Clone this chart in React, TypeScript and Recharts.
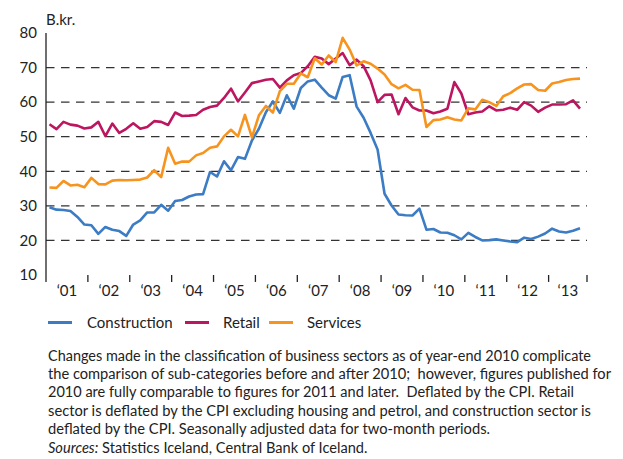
import React from 'react';
import { LineChart, Line, XAxis, YAxis, CartesianGrid, ReferenceLine } from 'recharts';

// ---- Data (bi-monthly, Jan 2001 – mid 2013), B.kr. ----
const yearLabels = ['‘01', '‘02', '‘03', '‘04', '‘05', '‘06', '‘07', '‘08', '‘09', '‘10', '‘11', '‘12', '‘13'];

const construction = [
  29.6, 28.9, 28.8, 28.5, 26.8, 24.6, 24.4, 21.9, 23.9, 23.1,
  22.7, 21.3, 24.6, 25.8, 28.1, 28.1, 30.3, 28.6, 31.4, 31.7,
  32.7, 33.3, 33.4, 39.8, 38.5, 42.9, 40.3, 44.1, 43.6, 48.9,
  52.3, 57.1, 60.2, 56.9, 62.0, 58.1, 64.1, 66.0, 66.5, 64.2,
  62.0, 61.0, 67.3, 67.8, 58.7, 55.5, 51.1, 46.3, 33.5, 30.1,
  27.5, 27.3, 27.2, 29.2, 23.1, 23.3, 22.3, 22.2, 21.5, 20.3,
  22.2, 21.0, 20.0, 20.1, 20.3, 20.0, 19.7, 19.5, 20.8, 20.4,
  21.1, 22.0, 23.4, 22.6, 22.3, 22.8, 23.5,
];

const retail = [
  53.6, 52.2, 54.3, 53.5, 53.2, 52.4, 52.7, 54.3, 50.2, 53.8,
  51.1, 52.3, 53.9, 52.3, 52.8, 54.5, 54.3, 53.4, 57.0, 56.0,
  56.1, 56.3, 57.8, 58.6, 59.0, 61.2, 63.9, 60.2, 62.8, 65.5,
  66.0, 66.5, 66.7, 64.2, 66.3, 67.8, 68.4, 70.4, 73.1, 72.6,
  71.0, 72.6, 74.2, 70.7, 72.3, 70.4, 66.3, 60.0, 62.1, 62.2,
  56.5, 61.2, 58.5, 57.6, 57.6, 56.8, 57.3, 58.1, 65.8, 62.5,
  56.5, 57.0, 57.3, 58.8, 57.6, 57.8, 58.4, 57.8, 60.0, 59.0,
  57.2, 58.4, 59.3, 59.3, 59.4, 60.5, 58.1,
];

const services = [
  35.3, 35.2, 37.2, 35.9, 36.1, 35.4, 38.1, 36.3, 36.2, 37.3,
  37.5, 37.4, 37.5, 37.6, 38.2, 40.3, 38.3, 46.8, 42.2, 42.8,
  42.8, 44.6, 45.3, 46.8, 47.2, 50.1, 52.0, 50.1, 56.3, 49.8,
  56.2, 58.9, 57.0, 63.2, 65.3, 65.3, 68.3, 67.2, 72.7, 70.9,
  73.5, 71.6, 78.6, 75.2, 70.6, 71.8, 71.1, 69.7, 68.0, 65.2,
  64.0, 65.0, 63.6, 63.5, 52.8, 54.8, 55.0, 55.6, 55.0, 54.7,
  58.2, 57.9, 60.7, 60.0, 58.9, 61.7, 62.6, 64.0, 65.1, 65.2,
  63.5, 63.3, 65.4, 65.8, 66.4, 66.7, 66.8,
];

const seriesNames = ['Construction', 'Retail', 'Services'];
const seriesKeys = ['construction', 'retail', 'services'];
const seriesColors = ['#3b7cc4', '#bd1660', '#f7941e'];

const yTicks = [10, 20, 30, 40, 50, 60, 70, 80];
const gridValues = [20, 30, 40, 50, 60, 70];
const periodsPerYear = 6;

const noteLines = [
  'Changes made in the classification of business sectors as of year-end 2010 complicate',
  'the comparison of sub-categories before and after 2010;  however, figures published for',
  '2010 are fully comparable to figures for 2011 and later.  Deflated by the CPI. Retail',
  'sector is deflated by the CPI excluding housing and petrol, and construction sector is',
  'deflated by the CPI. Seasonally adjusted data for two-month periods.',
];
const sourcesLabel = 'Sources:';
const sourcesText = ' Statistics Iceland, Central Bank of Iceland.';

// ---- derived ----
const data = construction.map((c, i) => ({
  i,
  construction: c,
  retail: retail[i],
  services: services[i],
}));

const xMin = -0.5;
const xMax = 77;
const yMin = 10;
const yMax = 80;
const boundaryTicks = yearLabels.map((_, k) => k * periodsPerYear - 0.5).concat([xMax]);
const labelTicks = yearLabels.map((_, k) => {
  const a = k * periodsPerYear - 0.5;
  const b = Math.min(a + periodsPerYear, xMax);
  return (a + b) / 2;
});
const tickDepth = 2; // tick mark length below the axis, in y units

const FONT = 'Lato, "Open Sans", sans-serif';
const AXIS = '#222';

const noteWidths = [543, 563, 526, 543, 442];
const NOTE_Y0 = 360.5;
const NOTE_DY = 18.4;

export default function App() {
  return (
    <div style={{ position: 'absolute', left: 0, top: 0, width: 623, height: 459, background: '#fff', fontFamily: FONT, color: '#222' }}>
      <div style={{ position: 'absolute', left: 46, top: 9, fontSize: 15, lineHeight: '20px' }}>B.kr.</div>
      <div style={{ position: 'absolute', left: 0, top: 0 }}>
        <LineChart width={623} height={300} data={data} margin={{ top: 33, right: 36, left: 0, bottom: 0 }} style={{ fontFamily: FONT }}>
          <CartesianGrid
            xAxisId="b"
            yAxisId="l"
            vertical={false}
            horizontalValues={gridValues}
            stroke="#333"
            strokeWidth={1.3}
            strokeDasharray="8.5 6.5"
          />
          <XAxis
            xAxisId="b"
            dataKey="i"
            type="number"
            domain={[xMin, xMax]}
            allowDataOverflow
            tick={false}
            tickLine={false}
            height={0}
            axisLine={{ stroke: AXIS, strokeWidth: 1.3 }}
          />
          <XAxis
            xAxisId="lab"
            dataKey="i"
            type="number"
            domain={[xMin, xMax]}
            ticks={labelTicks}
            allowDataOverflow
            interval={0}
            height={25}
            axisLine={false}
            tickLine={false}
            tickSize={6}
            tickMargin={4}
            tickFormatter={(_v: number, idx: number) => yearLabels[idx]}
            tick={{ fill: AXIS, fontSize: 15 }}
          />
          <XAxis
            xAxisId="top"
            orientation="top"
            dataKey="i"
            type="number"
            domain={[xMin, xMax]}
            allowDataOverflow
            height={0}
            tick={false}
            tickLine={false}
            axisLine={{ stroke: AXIS, strokeWidth: 1.3 }}
          />
          <YAxis
            yAxisId="l"
            type="number"
            domain={[yMin, yMax]}
            ticks={yTicks}
            interval={0}
            width={46}
            tickLine={false}
            tickMargin={3}
            axisLine={{ stroke: AXIS, strokeWidth: 1.3 }}
            tick={{ fill: AXIS, fontSize: 15 }}
          />
          <YAxis
            yAxisId="r"
            orientation="right"
            type="number"
            domain={[yMin, yMax]}
            width={0}
            tick={false}
            tickLine={false}
            axisLine={{ stroke: AXIS, strokeWidth: 1.3 }}
          />
          {boundaryTicks.map((t) => (
            <ReferenceLine
              key={`tk${t}`}
              xAxisId="b"
              yAxisId="l"
              segment={[{ x: t, y: yMin }, { x: t, y: yMin - tickDepth }]}
              ifOverflow="visible"
              stroke={AXIS}
              strokeWidth={1.3}
            />
          ))}
          {seriesKeys.map((k, idx) => (
            <Line
              key={k}
              xAxisId="b"
              yAxisId="l"
              type="linear"
              dataKey={k}
              name={seriesNames[idx]}
              stroke={seriesColors[idx]}
              strokeWidth={2.6}
              strokeLinejoin="round"
              dot={false}
              isAnimationActive={false}
            />
          ))}
        </LineChart>
      </div>

      {/* Legend */}
      {[
        { line: 48, text: 87 },
        { line: 185, text: 223 },
        { line: 269, text: 307 },
      ].map((p, idx) => (
        <React.Fragment key={seriesNames[idx]}>
          <div style={{ position: 'absolute', left: p.line, top: 321, width: 24, height: 3, background: seriesColors[idx] }} />
          <div style={{ position: 'absolute', left: p.text, top: 312, fontSize: 15, lineHeight: '20px', whiteSpace: 'nowrap' }}>
            {seriesNames[idx]}
          </div>
        </React.Fragment>
      ))}

      {/* Notes */}
      <svg width={623} height={459} style={{ position: 'absolute', left: 0, top: 0, pointerEvents: 'none' }}>
        {noteLines.map((t, idx) => (
          <text
            key={idx}
            x={48}
            y={NOTE_Y0 + idx * NOTE_DY}
            fontSize={14.6}
            fill="#222"
            fontFamily={FONT}
            textLength={noteWidths[idx]}
            lengthAdjust="spacingAndGlyphs"
            style={{ whiteSpace: 'pre' }}
          >
            {t}
          </text>
        ))}
        <text x={48} y={NOTE_Y0 + 5 * NOTE_DY} fontSize={14.6} fill="#222" fontFamily={FONT} style={{ whiteSpace: 'pre' }}>
          <tspan fontStyle="italic">{sourcesLabel}</tspan>
          <tspan>{sourcesText}</tspan>
        </text>
      </svg>
    </div>
  );
}
